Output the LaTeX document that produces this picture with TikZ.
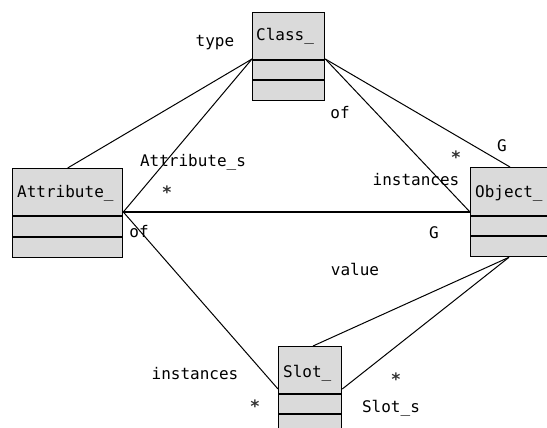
\documentclass[tikz,border=0pt]{standalone}
\usepackage{fontspec}
\setmonofont{DejaVu Sans Mono}
\usetikzlibrary{calc}
\begin{document}
\begin{tikzpicture}[x=1pt,y=-1pt,
  umlbox/.style={draw=black,line width=1.3pt,fill=boxgray,anchor=north west,inner sep=0pt},
  conn/.style={draw=black,line width=1pt},
  lbl/.style={font=\ttfamily\fontsize{16}{18}\selectfont,inner sep=0pt},
  star/.style={font=\ttfamily\bfseries\fontsize{17}{19}\selectfont,inner sep=0pt,text=black!80}]
\definecolor{boxgray}{RGB}{218,218,218}
\useasboundingbox[fill=white] (0,0) rectangle (547,428);
% boxes
\node[umlbox,minimum width=72pt,minimum height=88pt] (cls) at (252,12) {};
\node[umlbox,minimum width=110pt,minimum height=89pt] (att) at (12,168) {};
\node[umlbox,minimum width=100pt,minimum height=89pt] (obj) at (470,167) {};
\node[umlbox,minimum width=63pt,minimum height=88pt] (slot) at (278,346) {};
% dividers
\draw[line width=1.3pt] ($(cls.north west)+(0,48)$) -- ($(cls.north east)+(0,48)$);
\draw[line width=1.3pt] ($(cls.north west)+(0,68)$) -- ($(cls.north east)+(0,68)$);
\draw[line width=1.3pt] ($(att.north west)+(0,48)$) -- ($(att.north east)+(0,48)$);
\draw[line width=1.3pt] ($(att.north west)+(0,69)$) -- ($(att.north east)+(0,69)$);
\draw[line width=1.3pt] ($(obj.north west)+(0,49)$) -- ($(obj.north east)+(0,49)$);
\draw[line width=1.3pt] ($(obj.north west)+(0,69)$) -- ($(obj.north east)+(0,69)$);
\draw[line width=1.3pt] ($(slot.north west)+(0,48)$) -- ($(slot.north east)+(0,48)$);
\draw[line width=1.3pt] ($(slot.north west)+(0,68)$) -- ($(slot.north east)+(0,68)$);
% box titles
\node[lbl,anchor=west] (tcls) at (256,36) {Class\_};
\node[lbl,anchor=west] (tatt) at (17,193) {Attribute\_};
\node[lbl,anchor=west] (tobj) at (475,193) {Object\_};
\node[lbl,anchor=west] (tslot) at (283,373) {Slot\_};
% connector end points
\coordinate (clsL) at ($(cls.north west)+(0,47)$);
\coordinate (clsR) at ($(cls.north east)+(0,47)$);
\coordinate (attR) at ($(att.north east)+(0,44)$);
\coordinate (objL) at ($(obj.north west)+(0,45)$);
\coordinate (objT) at ($(obj.north west)+(40,0)$);
\coordinate (objB) at ($(obj.south west)+(39,0)$);
\coordinate (slotT) at ($(slot.north west)+(35,0)$);
\coordinate (slotL) at ($(slot.north west)+(0,43)$);
\coordinate (slotR) at ($(slot.north east)+(0,43)$);
% connectors
\draw[conn] (att.north) -- (clsL);
\draw[conn] (attR) -- (clsL);
\draw[conn,line width=1.3pt] (attR) -- (objL);
\draw[conn] (attR) -- (slotL);
\draw[conn] (clsR) -- (objL);
\draw[conn] (clsR) -- (objT);
\draw[conn] (slotT) -- (objB);
\draw[conn] (slotR) -- (objB);
% labels
\node[lbl] (l1) at (215,43) {type};
\node[lbl] (l2) at (340,113) {of};
\node[lbl] (l3) at (193,162) {Attribute\_s};
\node[star] (l4) at (167,192) {*};
\node[lbl] (l5) at (139,232) {of};
\node[lbl] (l6) at (416,180) {instances};
\node[star] (l7) at (456,157) {*};
\node[lbl] (l8) at (502,146) {G};
\node[lbl] (l9) at (434,233) {G};
\node[lbl] (l10) at (355,269) {value};
\node[lbl] (l11) at (195,374) {instances};
\node[star] (l12) at (255,406) {*};
\node[star] (l13) at (396,379) {*};
\node[lbl] (l14) at (391,408) {Slot\_s};
\end{tikzpicture}
\end{document}
